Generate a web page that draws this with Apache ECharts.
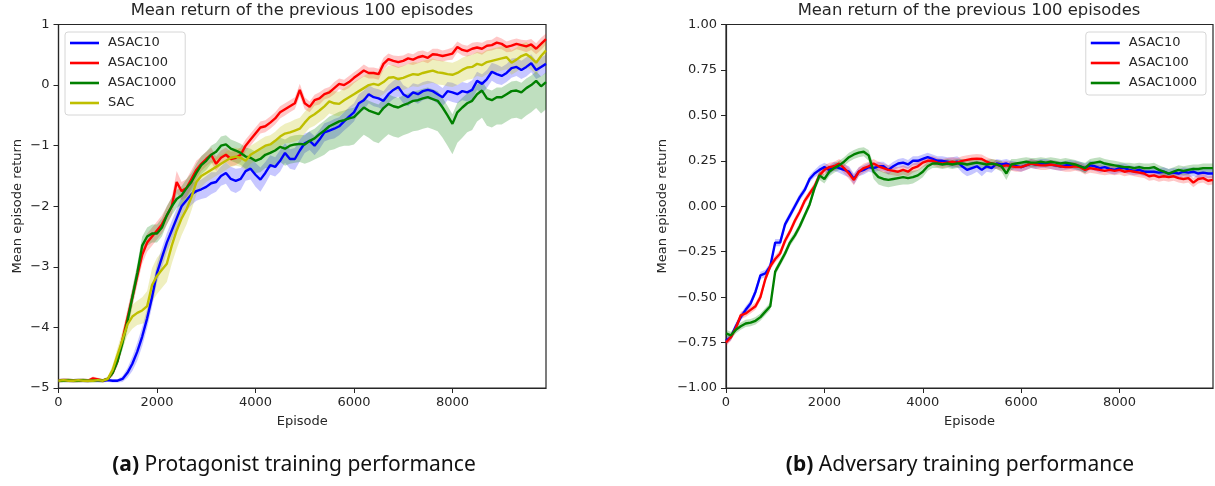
<!DOCTYPE html>
<html><head><meta charset="utf-8">
<script src="https://cdn.jsdelivr.net/npm/echarts@6/dist/echarts.min.js"></script>
<style>html,body{margin:0;padding:0;background:#fff}#c{width:1215px;height:486px}</style>
</head><body><div id="c"></div><script>
// ---------------- data ----------------
const EP_STEP = 100; // episodes between samples (0 .. 9900)
const xTicks = [0, 2000, 4000, 6000, 8000];
const titleText = 'Mean return of the previous 100 episodes';
const yName = 'Mean episode return';
const xName = 'Episode';
const captionA = ['(a)', 'Protagonist training performance'];
const captionB = ['(b)', 'Adversary training performance'];
const leftNames = ['ASAC10', 'ASAC100', 'ASAC1000', 'SAC'];
const rightNames = ['ASAC10', 'ASAC100', 'ASAC1000'];

// Left panel: protagonist
const protASAC10 = [
 -4.88,-4.87,-4.88,-4.88,-4.87,-4.88,-4.88,-4.87,-4.88,-4.88,
 -4.87,-4.88,-4.88,-4.85,-4.75,-4.60,-4.40,-4.15,-3.85,-3.50,
 -3.10,-2.85,-2.60,-2.40,-2.20,-2.00,-1.90,-1.80,-1.75,-1.72,
 -1.68,-1.62,-1.60,-1.50,-1.45,-1.55,-1.58,-1.55,-1.42,-1.38,
 -1.48,-1.56,-1.45,-1.32,-1.35,-1.25,-1.12,-1.22,-1.22,-1.08,
 -0.96,-0.92,-1.00,-0.90,-0.78,-0.75,-0.72,-0.68,-0.60,-0.52,
 -0.45,-0.30,-0.25,-0.15,-0.20,-0.22,-0.26,-0.15,-0.08,-0.03,
 -0.15,-0.20,-0.12,-0.15,-0.10,-0.08,-0.10,-0.15,-0.20,-0.10,
 -0.12,-0.15,-0.10,-0.12,-0.08,0.07,0.02,0.10,0.22,0.18,
 0.15,0.20,0.28,0.30,0.25,0.30,0.36,0.25,0.30,0.35];
const protASAC100 = [
 -4.88,-4.87,-4.87,-4.88,-4.88,-4.87,-4.88,-4.84,-4.86,-4.88,
 -4.85,-4.75,-4.55,-4.20,-3.85,-3.50,-3.15,-2.80,-2.60,-2.50,
 -2.40,-2.30,-2.15,-2.00,-1.60,-1.75,-1.70,-1.55,-1.40,-1.30,
 -1.22,-1.15,-1.30,-1.20,-1.15,-1.22,-1.20,-1.15,-1.00,-0.90,
 -0.80,-0.70,-0.68,-0.62,-0.55,-0.45,-0.40,-0.35,-0.30,-0.08,
 -0.30,-0.36,-0.25,-0.22,-0.15,-0.12,-0.05,0.02,0.00,0.05,
 0.12,0.18,0.24,0.20,0.20,0.18,0.35,0.43,0.40,0.38,
 0.40,0.44,0.42,0.46,0.48,0.45,0.51,0.50,0.48,0.50,
 0.52,0.63,0.58,0.56,0.60,0.62,0.60,0.65,0.66,0.70,
 0.68,0.63,0.65,0.68,0.66,0.64,0.67,0.60,0.68,0.76];
const protASAC1000 = [
 -4.88,-4.88,-4.87,-4.88,-4.88,-4.87,-4.88,-4.88,-4.87,-4.88,
 -4.85,-4.75,-4.55,-4.25,-3.90,-3.50,-3.10,-2.65,-2.50,-2.45,
 -2.45,-2.35,-2.15,-2.00,-1.88,-1.82,-1.70,-1.60,-1.45,-1.32,
 -1.25,-1.15,-1.10,-1.00,-0.98,-1.05,-1.08,-1.12,-1.18,-1.20,
 -1.25,-1.22,-1.15,-1.12,-1.08,-1.02,-1.05,-1.00,-0.98,-0.97,
 -0.98,-0.92,-0.88,-0.81,-0.75,-0.68,-0.64,-0.60,-0.58,-0.55,
 -0.53,-0.45,-0.37,-0.42,-0.45,-0.48,-0.38,-0.31,-0.35,-0.37,
 -0.33,-0.30,-0.26,-0.25,-0.22,-0.20,-0.23,-0.26,-0.37,-0.50,
 -0.64,-0.45,-0.37,-0.30,-0.26,-0.15,-0.09,-0.22,-0.25,-0.20,
 -0.20,-0.15,-0.10,-0.09,-0.12,-0.05,0.00,0.07,-0.02,0.05];
const protSAC = [
 -4.88,-4.87,-4.88,-4.88,-4.87,-4.88,-4.88,-4.88,-4.87,-4.88,
 -4.85,-4.70,-4.45,-4.20,-3.95,-3.82,-3.76,-3.72,-3.65,-3.30,
 -3.15,-3.05,-2.95,-2.65,-2.40,-2.20,-2.05,-1.85,-1.60,-1.50,
 -1.45,-1.40,-1.35,-1.30,-1.25,-1.20,-1.18,-1.20,-1.25,-1.15,
 -1.10,-1.05,-1.00,-0.98,-0.92,-0.85,-0.80,-0.78,-0.75,-0.72,
 -0.62,-0.53,-0.48,-0.42,-0.35,-0.27,-0.30,-0.31,-0.25,-0.20,
 -0.15,-0.10,-0.05,0.00,0.02,0.00,0.05,0.12,0.13,0.10,
 0.12,0.15,0.18,0.17,0.20,0.22,0.24,0.21,0.20,0.18,
 0.17,0.20,0.25,0.29,0.30,0.35,0.33,0.38,0.40,0.42,
 0.44,0.46,0.37,0.42,0.48,0.51,0.45,0.37,0.48,0.57];

// Left panel shaded spread (below / above mean)
const protASAC10Spread = [
 .03,.03,.03,.03,.03,.03,.03,.03,.03,.03,
 .03,.03,.03,.05,.08,.12,.15,.16,.16,.16,
 .16,.16,.16,.16,.16,.16,.18,.18,.16,.16,
 .18,.18,.16,.16,.18,.20,.20,.18,.16,.18,
 .20,.20,.18,.16,.16,.18,.16,.16,.18,.18,
 .16,.15,.16,.16,.15,.15,.16,.15,.15,.16,
 .15,.15,.16,.15,.15,.15,.16,.15,.15,.16,
 .15,.15,.15,.16,.15,.15,.15,.16,.15,.15,
 .16,.15,.15,.15,.16,.15,.16,.15,.15,.16,
 .15,.15,.16,.15,.15,.16,.15,.15,.16,.15];
const protASAC100Spread = [
 .03,.03,.03,.03,.03,.03,.03,.03,.03,.03,
 .03,.05,.08,.12,.15,.15,.15,.15,.15,.15,
 .15,.15,.15,.15,.18,.15,.15,.15,.15,.12,
 .12,.12,.12,.12,.12,.12,.12,.12,.10,.10,
 .10,.10,.10,.10,.10,.10,.10,.10,.10,.10,
 .10,.09,.09,.10,.09,.09,.10,.09,.09,.10,
 .09,.09,.10,.09,.09,.09,.10,.09,.09,.10,
 .09,.09,.09,.10,.09,.09,.09,.10,.09,.09,
 .10,.09,.09,.09,.10,.09,.10,.09,.09,.10,
 .09,.09,.10,.09,.09,.10,.09,.09,.10,.09];
const protASAC1000Below = [
 .03,.03,.03,.03,.03,.03,.03,.03,.03,.03,
 .03,.05,.08,.12,.15,.15,.15,.15,.15,.15,
 .15,.15,.15,.15,.15,.15,.15,.15,.15,.15,
 .15,.15,.15,.18,.20,.20,.20,.20,.20,.20,
 .20,.22,.22,.25,.25,.25,.28,.30,.30,.30,
 .32,.35,.35,.38,.40,.40,.42,.42,.42,.45,
 .45,.45,.45,.45,.48,.48,.50,.50,.50,.50,
 .50,.50,.50,.50,.50,.50,.50,.50,.50,.50,
 .50,.50,.50,.48,.48,.45,.45,.45,.45,.45,
 .45,.45,.45,.45,.45,.45,.45,.45,.45,.45];
const protASAC1000Above = [
 .03,.03,.03,.03,.03,.03,.03,.03,.03,.03,
 .03,.05,.08,.12,.15,.15,.15,.15,.15,.15,
 .15,.15,.15,.15,.15,.15,.15,.15,.15,.15,
 .15,.15,.15,.15,.15,.15,.15,.15,.15,.15,
 .15,.15,.15,.15,.15,.15,.15,.15,.15,.15,
 .15,.16,.16,.16,.16,.16,.16,.16,.16,.16,
 .16,.16,.16,.16,.16,.16,.16,.16,.16,.16,
 .16,.16,.16,.16,.16,.16,.16,.16,.16,.16,
 .16,.16,.16,.16,.16,.16,.16,.16,.16,.16,
 .16,.16,.16,.16,.16,.16,.16,.16,.16,.16];
const protSACSpread = [
 .03,.03,.03,.03,.03,.03,.03,.03,.03,.03,
 .03,.08,.12,.15,.18,.20,.20,.22,.25,.28,
 .30,.30,.30,.30,.30,.28,.25,.22,.20,.18,
 .15,.15,.15,.15,.15,.15,.15,.15,.15,.15,
 .15,.15,.15,.15,.15,.16,.16,.17,.18,.18,
 .18,.18,.19,.19,.20,.20,.20,.20,.20,.20,
 .20,.20,.20,.20,.20,.20,.20,.20,.20,.20,
 .20,.20,.20,.20,.20,.20,.20,.20,.20,.20,
 .20,.20,.20,.20,.20,.20,.20,.20,.20,.20,
 .20,.20,.20,.20,.20,.20,.20,.20,.20,.20];

// Right panel: adversary
const advASAC10 = [
 -0.74,-0.72,-0.66,-0.61,-0.57,-0.535,-0.47,-0.38,-0.37,-0.33,
 -0.20,-0.20,-0.10,-0.05,0.00,0.05,0.09,0.15,0.18,0.20,
 0.215,0.20,0.22,0.21,0.20,0.19,0.15,0.19,0.20,0.215,
 0.21,0.22,0.22,0.20,0.22,0.235,0.24,0.23,0.25,0.25,
 0.26,0.27,0.26,0.25,0.25,0.245,0.24,0.245,0.22,0.20,
 0.21,0.22,0.20,0.22,0.21,0.235,0.23,0.235,0.225,0.22,
 0.215,0.225,0.235,0.23,0.235,0.235,0.23,0.225,0.22,0.225,
 0.23,0.225,0.22,0.21,0.225,0.22,0.21,0.215,0.205,0.20,
 0.21,0.21,0.20,0.195,0.20,0.19,0.19,0.19,0.185,0.19,
 0.18,0.185,0.18,0.19,0.185,0.19,0.18,0.185,0.18,0.18];
const advASAC100 = [
 -0.75,-0.72,-0.67,-0.60,-0.59,-0.57,-0.55,-0.50,-0.40,-0.33,
 -0.29,-0.26,-0.19,-0.14,-0.08,-0.03,0.03,0.07,0.11,0.17,
 0.20,0.215,0.22,0.235,0.21,0.18,0.145,0.19,0.21,0.22,
 0.235,0.22,0.21,0.20,0.195,0.19,0.20,0.19,0.21,0.22,
 0.24,0.25,0.25,0.24,0.235,0.24,0.245,0.24,0.25,0.255,
 0.26,0.262,0.26,0.245,0.235,0.23,0.22,0.225,0.22,0.215,
 0.215,0.225,0.235,0.23,0.225,0.225,0.23,0.225,0.22,0.215,
 0.215,0.22,0.215,0.20,0.21,0.205,0.20,0.195,0.20,0.195,
 0.20,0.19,0.195,0.19,0.185,0.18,0.165,0.17,0.16,0.165,
 0.16,0.165,0.155,0.15,0.155,0.13,0.15,0.155,0.14,0.145];
const advASAC1000 = [
 -0.70,-0.71,-0.68,-0.66,-0.645,-0.64,-0.63,-0.61,-0.58,-0.55,
 -0.36,-0.31,-0.26,-0.20,-0.16,-0.11,-0.05,0.01,0.10,0.17,
 0.15,0.19,0.21,0.225,0.245,0.27,0.285,0.295,0.30,0.28,
 0.19,0.16,0.15,0.145,0.15,0.155,0.16,0.155,0.16,0.17,
 0.19,0.22,0.235,0.235,0.23,0.235,0.23,0.235,0.235,0.23,
 0.235,0.24,0.235,0.23,0.235,0.23,0.22,0.18,0.23,0.235,
 0.24,0.245,0.24,0.24,0.245,0.24,0.245,0.24,0.235,0.24,
 0.235,0.23,0.22,0.21,0.235,0.24,0.245,0.235,0.23,0.225,
 0.22,0.215,0.215,0.21,0.215,0.21,0.21,0.215,0.20,0.19,
 0.18,0.19,0.20,0.195,0.20,0.205,0.205,0.21,0.21,0.21];
const advASAC10Spread = [
 .02,.02,.02,.02,.02,.02,.02,.02,.02,.02,
 .02,.02,.02,.02,.02,.02,.02,.02,.02,.025,
 .025,.025,.025,.025,.03,.03,.03,.025,.025,.025,
 .025,.025,.025,.025,.025,.025,.025,.025,.025,.025,
 .025,.025,.025,.025,.025,.025,.03,.03,.035,.035,
 .035,.03,.035,.03,.025,.025,.025,.025,.025,.025,
 .025,.025,.025,.025,.025,.025,.025,.025,.025,.025,
 .025,.025,.025,.025,.025,.025,.025,.025,.025,.025,
 .025,.025,.025,.025,.025,.025,.025,.025,.025,.025,
 .025,.025,.025,.025,.025,.025,.025,.025,.025,.025];
const advASAC100Spread = [
 .02,.02,.02,.02,.02,.02,.02,.02,.02,.02,
 .02,.02,.02,.02,.02,.02,.02,.02,.02,.025,
 .025,.025,.025,.025,.03,.03,.03,.025,.025,.025,
 .025,.025,.025,.025,.025,.025,.025,.025,.025,.025,
 .025,.025,.025,.025,.025,.025,.025,.025,.025,.025,
 .025,.025,.025,.025,.025,.025,.025,.025,.025,.025,
 .025,.025,.025,.025,.025,.025,.025,.025,.025,.025,
 .025,.025,.025,.025,.025,.025,.025,.025,.025,.025,
 .025,.025,.025,.025,.025,.025,.025,.025,.025,.025,
 .025,.025,.025,.025,.025,.025,.025,.025,.025,.025];
const advASAC1000Spread = [
 .02,.02,.02,.02,.02,.02,.02,.02,.02,.02,
 .02,.02,.02,.02,.02,.02,.02,.02,.02,.025,
 .025,.025,.025,.025,.025,.025,.025,.025,.025,.03,
 .04,.04,.04,.04,.04,.04,.04,.035,.035,.03,
 .03,.025,.025,.025,.025,.025,.025,.025,.025,.025,
 .025,.025,.025,.025,.025,.025,.03,.035,.03,.025,
 .025,.025,.025,.025,.025,.025,.025,.025,.025,.025,
 .025,.025,.025,.03,.025,.025,.025,.025,.025,.025,
 .025,.025,.025,.025,.025,.025,.025,.025,.025,.025,
 .025,.025,.025,.025,.025,.025,.025,.025,.025,.025];

// ---------------- chart ----------------
const COLORS = { ASAC10: '#0000ff', ASAC100: '#ff0000', ASAC1000: '#008000', SAC: '#bfbf00' };
const BANDS = { ASAC10: 'rgba(0,0,255,0.22)', ASAC100: 'rgba(255,0,0,0.22)', ASAC1000: 'rgba(0,128,0,0.25)', SAC: 'rgba(191,191,0,0.25)' };
const FONT = 'DejaVu Sans';
const TXT = '#262626';
const AX = '#262626';
const minus = s => String(s).replace('-', '\u2212');

const bandSeries = [];
const lineSeries = [];
function addRun(gi, name, mean, below, above) {
  bandSeries.push({
    type: 'custom', name: name + ' band', xAxisIndex: gi, yAxisIndex: gi,
    silent: true, clip: true, z: 1,
    data: [[0, mean[0]]],
    renderItem: function (params, api) {
      const up = mean.map((m, i) => api.coord([i * EP_STEP, m + above[i]]));
      const dn = mean.map((m, i) => api.coord([i * EP_STEP, m - below[i]])).reverse();
      return { type: 'polygon', shape: { points: up.concat(dn) }, style: { fill: BANDS[name], stroke: null } };
    }
  });
  lineSeries.push({
    type: 'line', name, xAxisIndex: gi, yAxisIndex: gi, symbol: 'none',
    showSymbol: false, silent: true,
    lineStyle: { color: COLORS[name], width: 2.4 }, itemStyle: { color: COLORS[name] },
    data: mean.map((m, i) => [i * EP_STEP, m]), z: 3
  });
}
addRun(0, 'ASAC10', protASAC10, protASAC10Spread, protASAC10Spread);
addRun(0, 'ASAC100', protASAC100, protASAC100Spread, protASAC100Spread);
addRun(0, 'ASAC1000', protASAC1000, protASAC1000Below, protASAC1000Above);
addRun(0, 'SAC', protSAC, protSACSpread, protSACSpread);
addRun(1, 'ASAC10', advASAC10, advASAC10Spread, advASAC10Spread);
addRun(1, 'ASAC100', advASAC100, advASAC100Spread, advASAC100Spread);
addRun(1, 'ASAC1000', advASAC1000, advASAC1000Spread, advASAC1000Spread);

function xAxisCfg(gi) {
  return {
    gridIndex: gi, type: 'value', min: 0, max: 9900,
    name: xName, nameLocation: 'middle', nameGap: 27,
    nameTextStyle: { fontFamily: FONT, fontSize: 13, color: TXT },
    axisLine: { show: true, onZero: false, lineStyle: { color: AX, width: 1.2 } },
    axisTick: { show: true, length: 5, customValues: xTicks, lineStyle: { color: AX, width: 1 } },
    axisLabel: { customValues: xTicks, margin: 8, fontFamily: FONT, fontSize: 13, color: TXT, formatter: v => String(v) },
    splitLine: { show: false }
  };
}
function yAxisCfg(gi, min, max, interval, fmt, gap) {
  return {
    gridIndex: gi, type: 'value', min, max, interval,
    name: yName, nameLocation: 'middle', nameGap: gap,
    nameTextStyle: { fontFamily: FONT, fontSize: 13, color: TXT },
    axisLine: { show: true, onZero: false, lineStyle: { color: AX, width: 1.2 } },
    axisTick: { show: true, length: 5, lineStyle: { color: AX, width: 1 } },
    axisLabel: { margin: 9, fontFamily: FONT, fontSize: 13, color: TXT, formatter: fmt },
    splitLine: { show: false }
  };
}
function legendCfg(names, pos) {
  return Object.assign({
    data: names.map(n => ({ name: n, icon: 'rect' })), orient: 'vertical', top: 32, selectedMode: false,
    itemWidth: 29, itemHeight: 2.6, itemGap: 6, padding: [4, 9, 5, 5],
    borderColor: '#d6d6d6', borderWidth: 1, borderRadius: 3,
    backgroundColor: 'rgba(255,255,255,0.85)',
    textStyle: { fontFamily: FONT, fontSize: 13, lineHeight: 14, color: TXT, padding: [0, 0, 0, 4] }
  }, pos);
}
function captionCfg(parts, cx) {
  return {
    text: '{b|' + parts[0] + '} ' + parts[1], left: cx, top: 455, textAlign: 'center', padding: 0,
    textStyle: {
      fontFamily: 'Noto Sans', fontSize: 21, fontWeight: 'normal', color: '#111',
      rich: { b: { fontFamily: 'Noto Sans', fontSize: 21, fontWeight: 'bold', color: '#111' } }
    }
  };
}

const chart = echarts.init(document.getElementById('c'), null, { renderer: 'canvas' });
chart.setOption({
  animation: false,
  backgroundColor: '#ffffff',
  title: [
    { text: titleText, left: 302, top: 3, textAlign: 'center', padding: 0,
      textStyle: { fontFamily: FONT, fontSize: 16.4, fontWeight: 'normal', color: TXT } },
    { text: titleText, left: 969, top: 3, textAlign: 'center', padding: 0,
      textStyle: { fontFamily: FONT, fontSize: 16.4, fontWeight: 'normal', color: TXT } },
    captionCfg(captionA, 294),
    captionCfg(captionB, 960)
  ],
  grid: [
    { left: 58.5, top: 24.5, width: 487.5, height: 363.5, show: true, borderColor: AX, borderWidth: 1.2, backgroundColor: 'transparent', containLabel: false, outerBoundsMode: 'none' },
    { left: 726, top: 24.5, width: 487, height: 363.5, show: true, borderColor: AX, borderWidth: 1.2, backgroundColor: 'transparent', containLabel: false, outerBoundsMode: 'none' }
  ],
  xAxis: [xAxisCfg(0), xAxisCfg(1)],
  yAxis: [
    yAxisCfg(0, -5, 1, 1, v => minus(v), 34),
    yAxisCfg(1, -1, 1, 0.25, v => minus(v.toFixed(2)), 57)
  ],
  legend: [legendCfg(leftNames, { left: 65 }), legendCfg(rightNames, { right: 9 })],
  series: bandSeries.concat(lineSeries)
});
</script></body></html>
